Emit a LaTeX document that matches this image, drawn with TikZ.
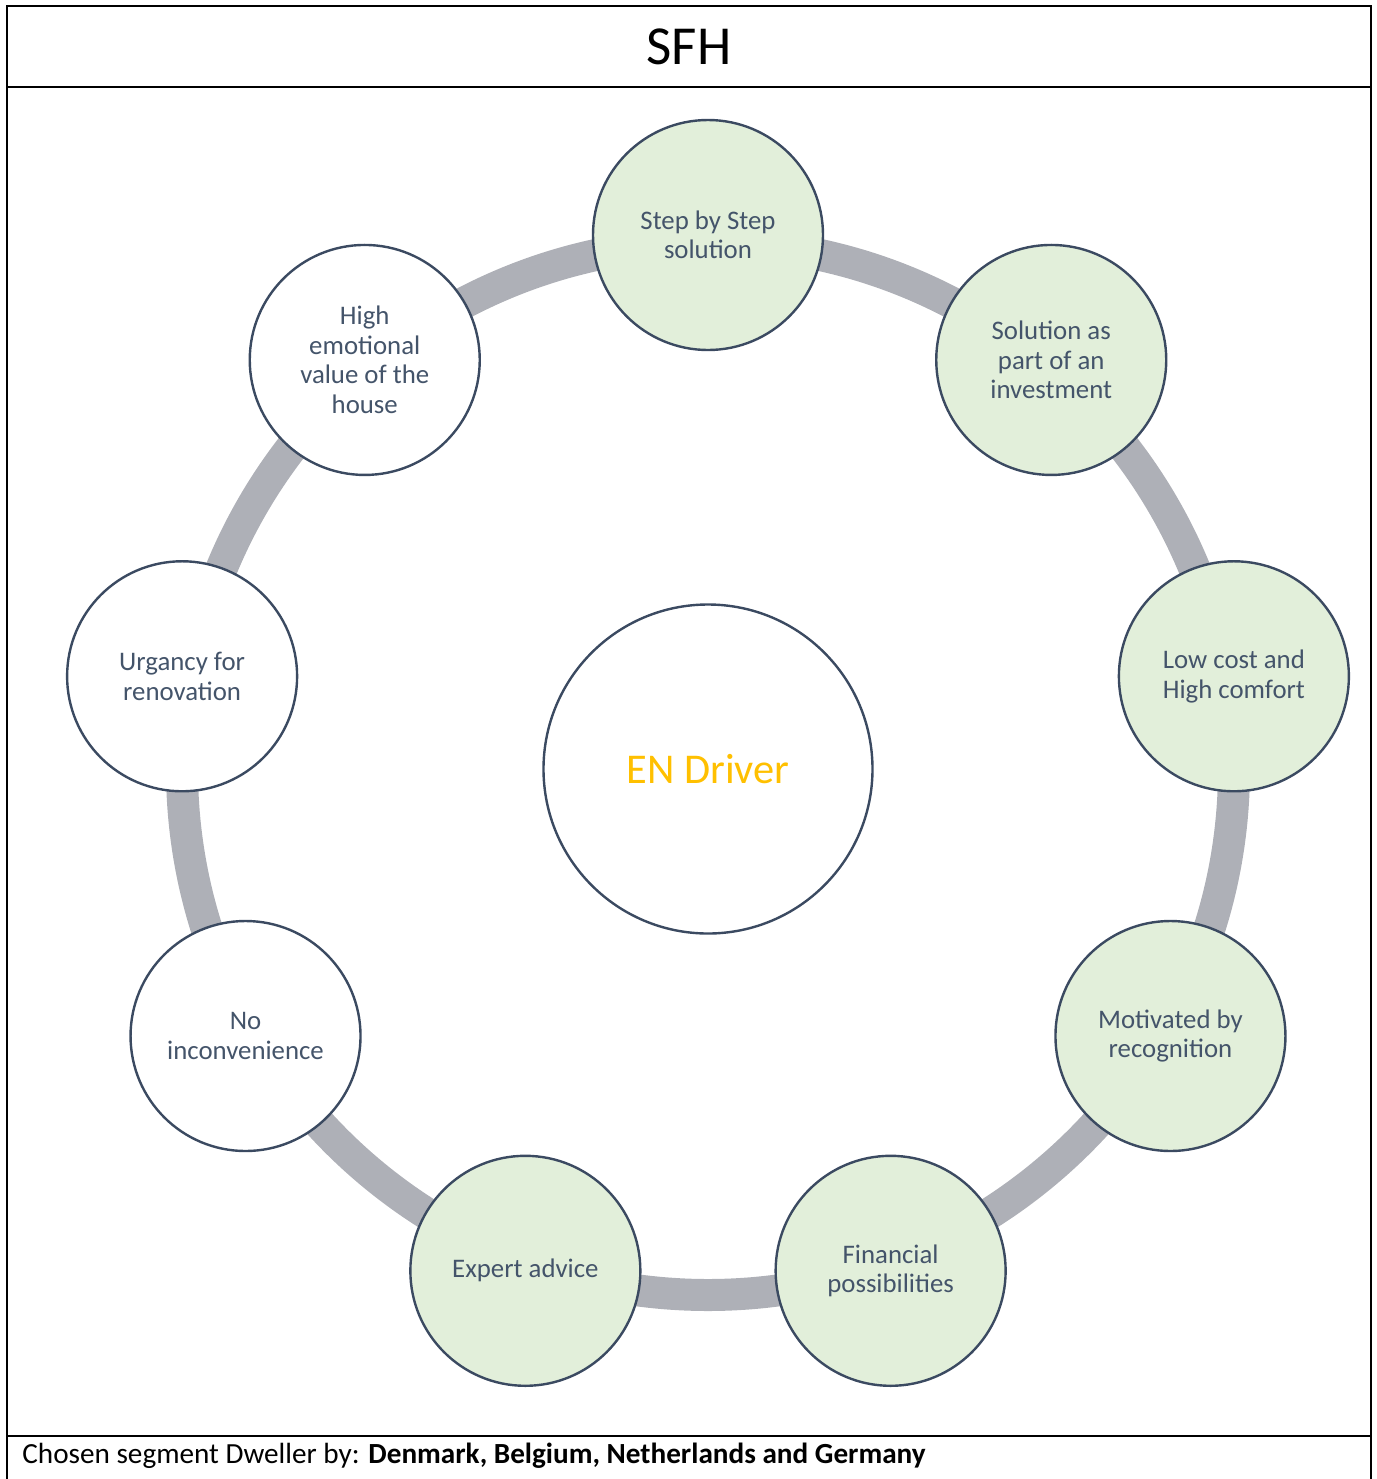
\documentclass[tikz,border=0pt]{standalone}
\usepackage{fontspec}
\setmainfont{Carlito}
\usetikzlibrary{calc}
\definecolor{nodefill}{HTML}{E2EFDA}
\definecolor{nodeline}{HTML}{3B4A61}
\definecolor{nodetext}{HTML}{44546A}
\definecolor{ringgray}{HTML}{AEB0B7}
\definecolor{enorange}{HTML}{FFC000}
\begin{document}
\begin{tikzpicture}[x=0.5pt,y=-0.5pt,
  frame/.style={line width=1pt, black},
  driverbase/.style={circle, draw=nodeline, line width=1.2pt, minimum size=115pt,
    inner sep=0pt, align=center, text=nodetext,
    font=\fontsize{13.4}{14.75}\selectfont},
  leafgreen/.style={driverbase, fill=nodefill},
  leafwhite/.style={driverbase, fill=white},
  hub/.style={circle, draw=nodeline, line width=1.2pt, fill=white,
    minimum size=164.5pt, inner sep=0pt, text=enorange,
    font=\fontsize{21.2}{25}\selectfont}]

\useasboundingbox (0,0) rectangle (1377,1479);

% table frame
\draw[frame] (7,1479) -- (7,6) -- (1371,6) -- (1371,1479);
\draw[frame] (7,87) -- (1371,87);
\draw[frame] (7,1436) -- (1371,1436);

\node[font=\fontsize{27.5}{32}\selectfont, anchor=base, inner sep=0pt] (title) at (689,64) {SFH};
\node[anchor=base west, inner sep=0pt, font=\fontsize{14.6}{17}\selectfont] (foot) at (22,1463)
  {Chosen segment Dweller by: \textbf{Denmark, Belgium, Netherlands and Germany}};

% cycle
\coordinate (c) at (708,769);
\draw[ringgray, line width=16pt] (c) circle[radius=263pt];
\node[hub] (hub) at (c) {EN Driver};

\node[leafgreen] (n0) at ($(c)+(-90:534)$) {Step by Step\\solution};
\node[leafgreen] (n1) at ($(c)+(-50:534)$) {Solution as\\part of an\\investment};
\node[leafgreen] (n2) at ($(c)+(-10:534)$) {Low cost and\\High comfort};
\node[leafgreen] (n3) at ($(c)+(30:534)$) {Motivated by\\recognition};
\node[leafgreen] (n4) at ($(c)+(70:534)$) {Financial\\possibilities};
\node[leafgreen] (n5) at ($(c)+(110:534)$) {Expert advice};
\node[leafwhite] (n6) at ($(c)+(150:534)$) {No\\inconvenience};
\node[leafwhite] (n7) at ($(c)+(190:534)$) {Urgancy for\\renovation};
\node[leafwhite] (n8) at ($(c)+(230:534)$) {High\\emotional\\value of the\\house};
\end{tikzpicture}
\end{document}
